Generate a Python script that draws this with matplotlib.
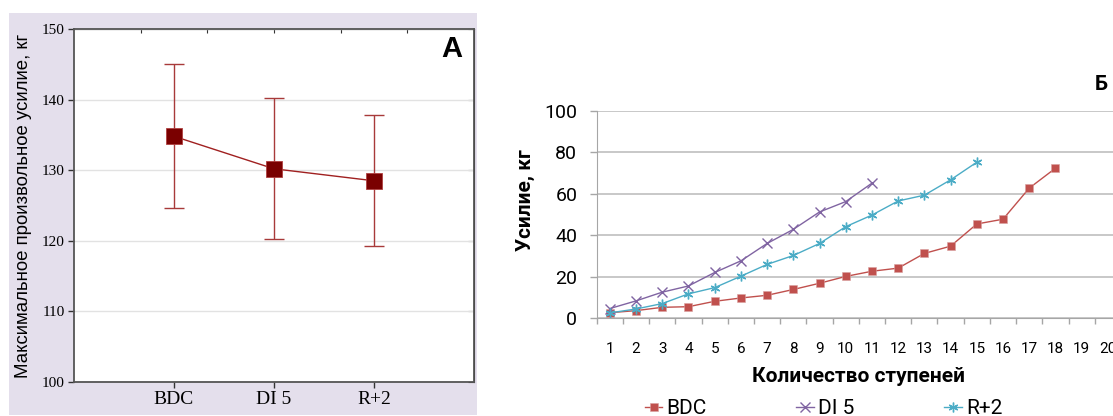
import matplotlib
matplotlib.use("Agg")
import matplotlib.pyplot as plt
from matplotlib.patches import Rectangle
import numpy as np

# panel A: means and error limits
groups = ["BDC", "DI 5", "R+2"]
means = [134.8, 130.2, 128.5]
err_low = [124.7, 120.2, 119.3]
err_high = [145.0, 140.2, 137.8]

# panel Б: effort per step
steps = list(range(1, 21))
bdc = [2.7, 3.7, 5.3, 5.6, 8.2, 9.8, 11.1, 13.9, 16.9, 20.2, 22.7, 24.2,
       31.3, 34.8, 45.5, 47.8, 62.8, 72.4]
di5 = [4.7, 8.4, 12.6, 15.6, 22.1, 27.7, 36.1, 42.9, 51.3, 56.3, 65.2]
r2 = [2.6, 4.5, 7.1, 11.8, 14.8, 20.3, 26.0, 30.3, 36.1, 44.2, 49.8, 56.6,
      59.4, 66.8, 75.3]

W, H = 1113, 416
fig = plt.figure(figsize=(W / 100, H / 100), dpi=100)

# lavender frame behind panel A
fig.add_artist(Rectangle((9 / W, 1 / H), 468 / W, 402 / H,
                         transform=fig.transFigure, facecolor="#E4DFEC",
                         edgecolor="none", zorder=0))

# ---- panel A
ax1 = fig.add_axes([74 / W, (H - 382) / H, 400 / W, 353 / H])
ax1.set_facecolor("white")
x = np.arange(1, len(groups) + 1)
m = np.array(means)
yerr = [m - np.array(err_low), np.array(err_high) - m]
ax1.errorbar(x, m, yerr=yerr, fmt="none", ecolor="#A83A3A", elinewidth=1,
             capsize=7.5, capthick=1, zorder=3)
ax1.plot(x, m, color="#A02020", lw=1, zorder=4)
ax1.plot(x, m, "s", ms=11, mfc="#7A0000", mec="#B04040", mew=0.6, zorder=5)
ax1.set_xlim(0, 4)
ax1.set_ylim(100, 150)
ax1.set_xticks(x)
ax1.set_xticklabels(groups, family="Liberation Serif", fontsize=14)
yt = [100, 110, 120, 130, 140, 150]
ax1.set_yticks(yt)
for lab in ax1.get_yticklabels():
    lab.set_family("Liberation Serif")
    lab.set_fontsize(11)
ax1.tick_params(axis="both", direction="out", length=4.5, width=1,
                color="#333333", pad=2)
ax1.grid(axis="y", color="#E2E2E2", lw=1)
ax1.set_axisbelow(True)
for s in ax1.spines.values():
    s.set_color("#555555")
    s.set_linewidth(1.3)
top = ax1.secondary_xaxis("top")
top.set_xticks([2 / 3, 4 / 3, 2, 8 / 3, 10 / 3])
top.set_xticklabels([])
top.tick_params(direction="in", length=3, color="#333333")
right = ax1.secondary_yaxis("right")
right.set_yticks(yt)
right.set_yticklabels([])
right.tick_params(direction="in", length=4, color="#333333")
ax1.set_ylabel("Максимальное произвольное усилие, кг", family="Liberation Sans",
               fontsize=13.4)
ax1.yaxis.set_label_coords(-0.105, 0.5)
ax1.text(0.945, 0.943, "A", transform=ax1.transAxes, fontsize=21,
         fontweight="bold", family="Liberation Sans", ha="center", va="center")

# ---- panel Б
fnt = ["Roboto", "DejaVu Sans"]
ax2 = fig.add_axes([596.7 / W, (H - 318.3) / H, 524.3 / W, 207.3 / H])
ax2.plot(steps[:len(bdc)], bdc, color="#C0504D", lw=1, marker="s", ms=5.5,
         mec="#D8A0A0", mew=0.4, label="BDC")
ax2.plot(steps[:len(di5)], di5, color="#8064A2", lw=1, marker="x", ms=6.5,
         mew=1, label="DI 5")
ax2.plot(steps[:len(r2)], r2, color="#4BACC6", lw=1, marker=(6, 2, 0), ms=7,
         mew=1, label="R+2")
ax2.set_xlim(0.5, 20.5)
ax2.set_ylim(0, 100)
ax2.set_yticks([0, 20, 40, 60, 80, 100])
ax2.set_xticks(steps)
ax2.set_xticklabels([str(s) for s in steps], family=fnt, fontsize=11)
ax2.set_xticks(np.arange(0.5, 21, 1), minor=True)
ax2.tick_params(axis="x", which="major", length=0, pad=17)
ax2.tick_params(axis="x", which="minor", length=4, color="#A6A6A6", width=1)
ax2.tick_params(axis="y", length=5, color="#A6A6A6", width=1, pad=9,
                labelsize=14)
for lab in ax2.get_yticklabels():
    lab.set_family(fnt)
ax2.grid(axis="y", color="#BFBFBF", lw=1.2)
ax2.set_axisbelow(True)
for s in ["top", "right"]:
    ax2.spines[s].set_visible(False)
ax2.spines["left"].set_color("#A6A6A6")
ax2.spines["bottom"].set_color("#A6A6A6")
ax2.set_ylabel("Усилие, кг", family=fnt, fontsize=15, fontweight="bold")
ax2.yaxis.set_label_coords(-0.118, 0.571)
ax2.set_xlabel("Количество ступеней", family=fnt, fontsize=15,
               fontweight="bold", labelpad=8)
ax2.legend(loc="center left", bbox_to_anchor=(48 / 524.3, -0.435), ncol=3,
           frameon=False, handlelength=0.85, handletextpad=0.2,
           columnspacing=4.3, borderaxespad=0, borderpad=0,
           prop={"family": fnt, "size": 15})
fig.text(1101 / W, (H - 85) / H, "Б", family=fnt, fontsize=15,
         fontweight="bold", ha="center", va="center")

fig.savefig("out.png", dpi=100)
